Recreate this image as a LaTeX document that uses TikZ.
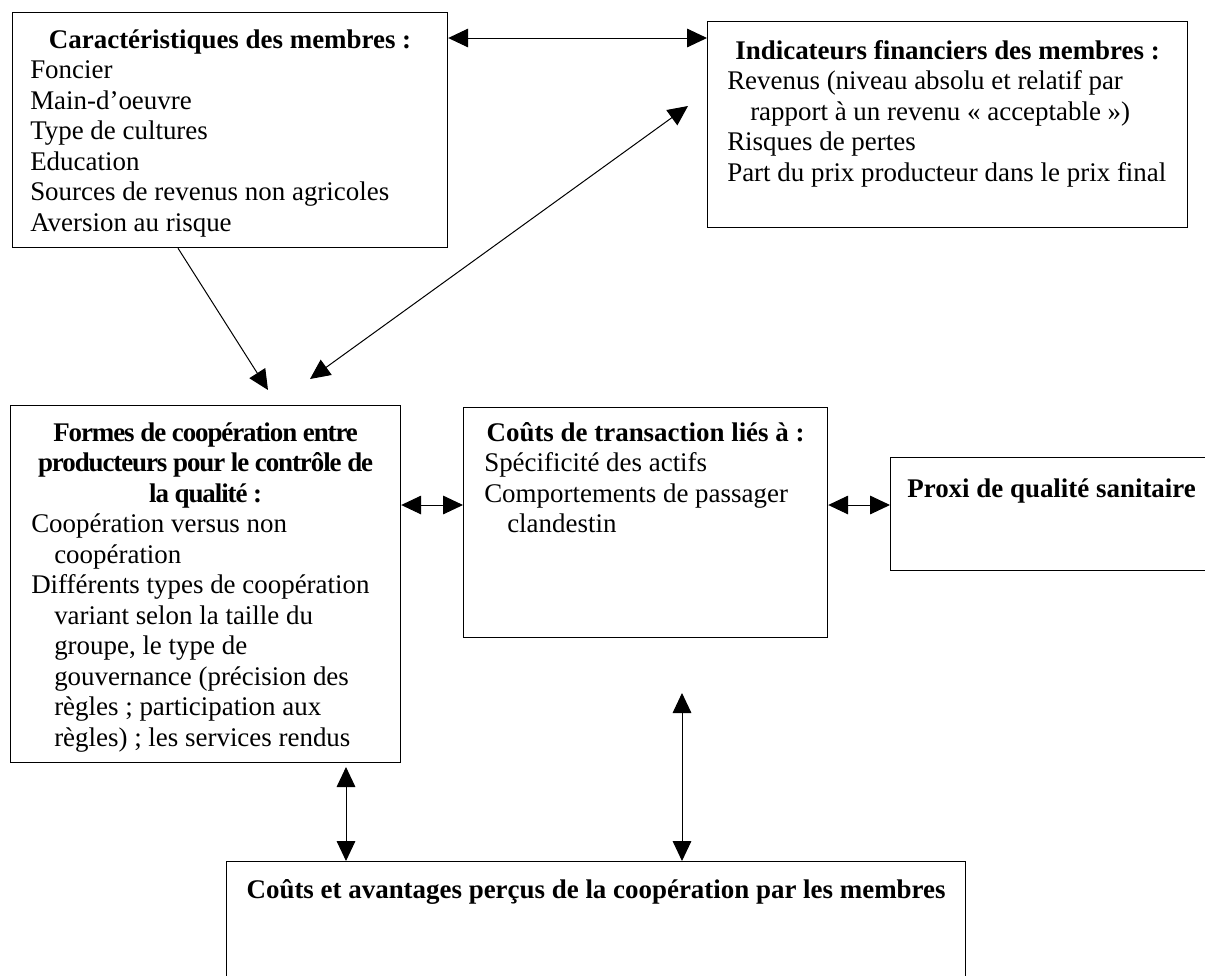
\documentclass[tikz,border=0pt]{standalone}
\usepackage{fontspec}
\setmainfont{Liberation Serif}
\newfontfamily\condensed[LetterSpace=-4.0]{Liberation Serif}
\usepackage{tikz}
\usetikzlibrary{positioning,calc,arrows.meta}

\tikzset{
  box/.style={draw, line width=0.9pt, inner sep=0pt, anchor=north west},
  txt/.style={inner sep=0pt, font=\fontsize{20.2pt}{22.9pt}\selectfont},
  ttl/.style={inner sep=0pt, font=\fontsize{20.2pt}{22.9pt}\selectfont\bfseries},
  con/.style={line width=0.75pt, -{Triangle[length=15pt,width=14pt]}},
  bicon/.style={line width=0.75pt, {Triangle[length=15pt,width=14pt]}-{Triangle[length=15pt,width=14pt]}}
}
\newcommand{\ind}{\hspace*{17.25pt}}

\begin{document}
\begin{tikzpicture}[x=0.75pt,y=0.75pt,yscale=-1,xscale=1]
        %set diagram frame at 0, width 1205 and height 975
        \path[use as bounding box, fill=white] (0,0) rectangle (1205,975);
        
        %Shape: Rectangle [membres]
        \node[box, minimum width=326.25pt, minimum height=176.25pt] (memb) at (12,12) {};
        
        %Shape: Rectangle [indicateurs]
        \node[box, minimum width=360pt, minimum height=154.5pt] (indic) at (707,21) {};
        
        %Shape: Rectangle [formes]
        \node[box, minimum width=292.5pt, minimum height=267.75pt] (formes) at (10,405) {};
        
        %Shape: Rectangle [transaction]
        \node[box, minimum width=273pt, minimum height=172.5pt] (trans) at (463,407) {};
        
        %Shape: Rectangle [proxi]
        \node[box, minimum width=241.5pt, minimum height=84.75pt] (proxi) at (890,457) {};
        
        %Shape: Rectangle [couts]
        \node[box, minimum width=554.25pt, minimum height=104.25pt] (couts) at (226,861) {};
        
        % Text Node
        \node[ttl, anchor=base] (membttl) at ($(memb.north)+(0,36)$) {Caractéristiques des membres :};
        % Text Node
        \node[txt, align=left, anchor=north west] (membtxt) at ($(memb.north west)+(18,45.1)$) {\strut Foncier\\Main-d’oeuvre\\Type de cultures\\Education\\Sources de revenus non agricoles\\Aversion au risque};
        
        % Text Node
        \node[ttl, anchor=base] (indicttl) at ($(indic.north)+(0,38)$) {Indicateurs financiers des membres :};
        % Text Node
        \node[txt, align=left, anchor=north west] (indictxt) at ($(indic.north west)+(20,47.1)$) {\strut Revenus (niveau absolu et relatif par\\\ind rapport à un revenu « acceptable »)\\Risques de pertes\\Part du prix producteur dans le prix final};
        
        % Text Node
        \node[ttl, align=center, anchor=north, font=\condensed\fontsize{20.2pt}{22.9pt}\selectfont\bfseries] (formesttl) at ($(formes.north)+(0,14.6)$) {\strut Formes de coopération entre\\producteurs pour le contrôle de\\la qualité :};
        % Text Node
        \node[txt, align=left, anchor=north west] (formestxt) at ($(formes.north west)+(21,106.1)$) {\strut Coopération versus non\\\ind coopération\\Différents types de coopération\\\ind variant selon la taille du\\\ind groupe, le type de\\\ind gouvernance (précision des\\\ind règles ; participation aux\\\ind règles) ; les services rendus};
        
        % Text Node
        \node[ttl, anchor=base] (transttl) at ($(trans.north)+(0,34)$) {Coûts de transaction liés à :};
        % Text Node
        \node[txt, align=left, anchor=north west] (transtxt) at ($(trans.north west)+(21,43.1)$) {\strut Spécificité des actifs\\Comportements de passager\\\ind clandestin};
        
        % Text Node
        \node[ttl, anchor=base] (proxittl) at ($(proxi.north)+(0,40)$) {Proxi de qualité sanitaire};
        
        % Text Node
        \node[ttl, anchor=base] (coutsttl) at ($(couts.north)+(0,37)$) {Coûts et avantages perçus de la coopération par les membres};
        
        %Straight Lines [membres - indicateurs]
        \coordinate (ab) at (0,38);
        \draw[bicon] (memb.east |- ab) -- (indic.west |- ab);
        
        %Straight Lines [membres - formes]
        \coordinate (a1) at (178,0);
        \coordinate (t1) at (268,390);
        \draw[con] (memb.south -| a1) -- (t1);
        
        %Straight Lines [formes - indicateurs]
        \coordinate (t2) at (310,379);
        \coordinate (t3) at (688,106);
        \draw[bicon] (t2) -- (t3);
        
        %Straight Lines [formes - transaction - proxi]
        \coordinate (cd) at (0,505);
        \draw[bicon] (formes.east |- cd) -- (trans.west |- cd);
        \draw[bicon] (trans.east |- cd) -- (proxi.west |- cd);
        
        %Straight Lines [formes - couts]
        \coordinate (t4) at (346,767);
        \draw[bicon] (t4) -- (t4 |- couts.north);
        
        %Straight Lines [transaction - couts]
        \coordinate (t5) at (682,693);
        \draw[bicon] (t5) -- (t5 |- couts.north);
\end{tikzpicture}
\end{document}
